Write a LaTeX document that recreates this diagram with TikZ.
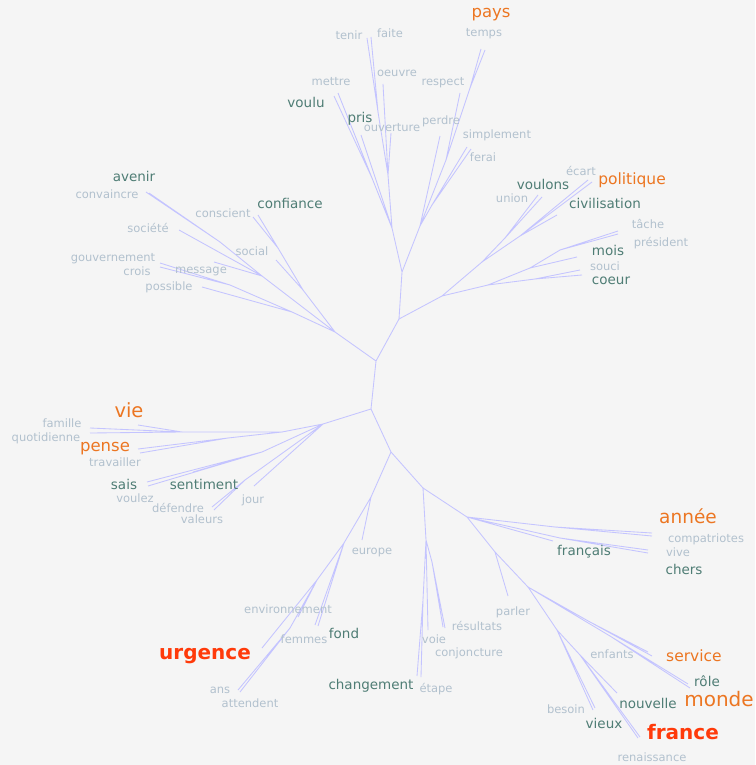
\documentclass[tikz,border=0pt]{standalone}
\usepackage{fontspec}
\setmainfont{DejaVu Sans}
\definecolor{bgcol}{HTML}{F5F5F5}
\definecolor{branchcol}{HTML}{C4C4FF}
\definecolor{rarecol}{HTML}{B2C1CE}
\definecolor{commoncol}{HTML}{4F7D75}
\definecolor{freqcol}{HTML}{EC7622}
\definecolor{topcol}{HTML}{FF3A0A}
\tikzset{
  br/.style={draw=branchcol, line width=0.85pt},
  rare/.style={text=rarecol, inner sep=0pt, font=\fontsize{11.5}{12}\selectfont},
  common/.style={text=commoncol, inner sep=0pt, font=\fontsize{13.5}{14}\selectfont},
  frequent/.style={text=freqcol, inner sep=0pt, font=\fontsize{#1}{#1}\selectfont},
  top/.style={text=topcol, inner sep=0pt, font=\bfseries\fontsize{20}{20}\selectfont},
}
\begin{document}
\begin{tikzpicture}[x=1pt, y=-1pt]
    \useasboundingbox (0,0) rectangle (755,765);
    \fill[bgcol] (0,0) rectangle (755,765);

    % centre of the tree
    \coordinate (A) at (376,361);
    \coordinate (B) at (371,409);
    \coordinate (C) at (399,319);
    \coordinate (D) at (335,332);
    \draw[br] (A) -- (B) (A) -- (C) (A) -- (D);

    % upper branch
    \coordinate (F) at (402,272);
    \coordinate (FL) at (392,228);
    \coordinate (Fm) at (372,178);
    \coordinate (Fo) at (388,175);
    \coordinate (Ft) at (378,112);
    \coordinate (FR) at (420,226);
    \coordinate (FRs) at (432,205);
    \coordinate (FRp) at (446,160);
    \coordinate (Fpt) at (470,88);

    \coordinate (tvoulu) at (334,96);
    \coordinate (tmettre) at (338,93);
    \coordinate (tpris) at (361,135);
    \coordinate (touverture) at (391,133);
    \coordinate (toeuvre) at (383,84);
    \coordinate (ttenir) at (367,38);
    \coordinate (tfaite) at (371,37);
    \coordinate (tperdre) at (440,136);
    \coordinate (tsimplement) at (467,147);
    \coordinate (tferai) at (471,149);
    \coordinate (trespect) at (460,93);
    \coordinate (tpays) at (481,49);
    \coordinate (ttemps) at (485,50);

    \draw[br] (C) -- (F) (F) -- (FL) (F) -- (FR);
    \draw[br] (FL) -- (Fm) (FL) -- (tpris) (FL) -- (Fo);
    \draw[br] (Fm) -- (tvoulu) (Fm) -- (tmettre);
    \draw[br] (Fo) -- (touverture) (Fo) -- (toeuvre) (Fo) -- (Ft);
    \draw[br] (Ft) -- (ttenir) (Ft) -- (tfaite);
    \draw[br] (FR) -- (tperdre) (FR) -- (FRs) (FR) -- (FRp);
    \draw[br] (FRs) -- (tsimplement) (FRs) -- (tferai);
    \draw[br] (FRp) -- (trespect) (FRp) -- (Fpt);
    \draw[br] (Fpt) -- (tpays) (Fpt) -- (ttemps);

    \node[frequent=16.5] (pays) at (491,15) {pays};
    \node[rare] (temps) at (484,34) {temps};
    \node[rare] (tenir) at (349,35) {tenir};
    \node[rare] (faite) at (390,33) {faite};
    \node[rare] (oeuvre) at (397,73) {oeuvre};
    \node[rare] (respect) at (443,83) {respect};
    \node[rare] (mettre) at (331,82) {mettre};
    \node[common] (voulu) at (306,102) {voulu};
    \node[common] (pris) at (360,119) {pris};
    \node[rare] (ouverture) at (392,128) {ouverture};
    \node[rare] (perdre) at (441,121) {perdre};
    \node[rare] (simplement) at (497,135) {simplement};
    \node[rare] (ferai) at (483,157) {ferai};

    % right branch
    \coordinate (G) at (442,296);
    \coordinate (H) at (482,262);
    \coordinate (Hu) at (505,238);
    \coordinate (Hc) at (520,236);
    \coordinate (K) at (488,285);
    \coordinate (Km) at (530,268);
    \coordinate (Kt) at (560,250);
    \coordinate (Ks) at (535,279);

    \coordinate (tunion) at (538,195);
    \coordinate (tvoulons) at (542,197);
    \coordinate (tcivilisation) at (557,215);
    \coordinate (tecart) at (588,180);
    \coordinate (tpolitique) at (592,182);
    \coordinate (tmois) at (577,257);
    \coordinate (ttache) at (618,231);
    \coordinate (tpresident) at (618,234);
    \coordinate (tsouci) at (580,270);
    \coordinate (tcoeur) at (582,275);

    \draw[br] (C) -- (G) (G) -- (H) (G) -- (K);
    \draw[br] (H) -- (Hu) (H) -- (Hc);
    \draw[br] (Hu) -- (tunion) (Hu) -- (tvoulons);
    \draw[br] (Hc) -- (tcivilisation) (Hc) -- (tecart) (Hc) -- (tpolitique);
    \draw[br] (K) -- (Km) (K) -- (Ks);
    \draw[br] (Km) -- (tmois) (Km) -- (Kt);
    \draw[br] (Kt) -- (ttache) (Kt) -- (tpresident);
    \draw[br] (Ks) -- (tsouci) (Ks) -- (tcoeur);

    \node[rare] (ecart) at (581,171) {écart};
    \node[common] (voulons) at (543,184) {voulons};
    \node[frequent=15.5] (politique) at (632,180) {politique};
    \node[rare] (union) at (512,198) {union};
    \node[common] (civilisation) at (605,203) {civilisation};
    \node[rare] (tache) at (648,224) {tâche};
    \node[rare] (president) at (661,243) {président};
    \node[common] (mois) at (608,250) {mois};
    \node[rare] (souci) at (605,266) {souci};
    \node[common] (coeur) at (611,281) {coeur};

    % upper left branch
    \coordinate (Dc) at (303,290);
    \coordinate (Dcc) at (278,248);
    \coordinate (Dl) at (292,312);
    \coordinate (Dg) at (230,285);
    \coordinate (Du) at (262,276);
    \coordinate (Dv) at (220,242);

    \coordinate (tsocial) at (276,260);
    \coordinate (tconscient) at (253,217);
    \coordinate (tconfiance) at (258,215);
    \coordinate (tpossible) at (202,287);
    \coordinate (tgouvernement) at (160,263);
    \coordinate (tcrois) at (160,267);
    \coordinate (tmessage) at (214,262);
    \coordinate (tsociete) at (179,230);
    \coordinate (tconvaincre) at (146,192);
    \coordinate (tavenir) at (149,193);

    \draw[br] (D) -- (Dc) (D) -- (Dl) (D) -- (Du);
    \draw[br] (Dc) -- (tsocial) (Dc) -- (Dcc);
    \draw[br] (Dcc) -- (tconscient) (Dcc) -- (tconfiance);
    \draw[br] (Dl) -- (tpossible) (Dl) -- (Dg);
    \draw[br] (Dg) -- (tgouvernement) (Dg) -- (tcrois);
    \draw[br] (Du) -- (tmessage) (Du) -- (tsociete) (Du) -- (Dv);
    \draw[br] (Dv) -- (tconvaincre) (Dv) -- (tavenir);

    \node[common] (avenir) at (134,176) {avenir};
    \node[rare] (convaincre) at (107,194) {convaincre};
    \node[rare] (conscient) at (223,213) {conscient};
    \node[common] (confiance) at (290,203) {confiance};
    \node[rare] (societe) at (148,228) {société};
    \node[rare] (social) at (252,251) {social};
    \node[rare] (gouvernement) at (113,259) {gouvernement};
    \node[rare] (crois) at (137,271) {crois};
    \node[rare] (message) at (201,271) {message};
    \node[rare] (possible) at (169,287) {possible};

    % lower left branch
    \coordinate (L) at (323,424);
    \coordinate (M) at (282,432);
    \coordinate (Mv) at (182,432);
    \coordinate (Mp) at (228,438);
    \coordinate (N) at (262,452);
    \coordinate (P) at (245,480);

    \coordinate (tvie) at (138,425);
    \coordinate (tfamille) at (90,428);
    \coordinate (tquotidienne) at (90,433);
    \coordinate (tpense) at (138,449);
    \coordinate (ttravailler) at (140,453);
    \coordinate (tsais) at (147,482);
    \coordinate (tvoulez) at (148,486);
    \coordinate (tsentiment) at (193,472);
    \coordinate (tjour) at (254,486);
    \coordinate (tdefendre) at (212,507);
    \coordinate (tvaleurs) at (214,510);

    \draw[br] (B) -- (L) (L) -- (M) (L) -- (N) (L) -- (tjour) (L) -- (P);
    \draw[br] (M) -- (Mv) (M) -- (Mp);
    \draw[br] (Mv) -- (tvie) (Mv) -- (tfamille) (Mv) -- (tquotidienne);
    \draw[br] (Mp) -- (tpense) (Mp) -- (ttravailler);
    \draw[br] (N) -- (tsais) (N) -- (tvoulez) (N) -- (tsentiment);
    \draw[br] (P) -- (tdefendre) (P) -- (tvaleurs);

    \node[frequent=19.5] (vie) at (129,410) {vie};
    \node[rare] (famille) at (62,423) {famille};
    \node[rare] (quotidienne) at (46,438) {quotidienne};
    \node[frequent=16.5] (pense) at (105,449) {pense};
    \node[rare] (travailler) at (115,462) {travailler};
    \node[common] (sais) at (124,484) {sais};
    \node[common] (sentiment) at (204,484) {sentiment};
    \node[rare] (voulez) at (135,498) {voulez};
    \node[rare] (defendre) at (178,508) {défendre};
    \node[rare] (valeurs) at (202,519) {valeurs};
    \node[rare] (jour) at (253,500) {jour};

    % lower branch
    \coordinate (Q) at (391,452);
    \coordinate (R) at (371,497);
    \coordinate (R2) at (344,543);
    \coordinate (Re) at (317,580);
    \coordinate (Ra) at (290,628);
    \coordinate (S) at (423,488);
    \coordinate (Sa) at (426,540);
    \coordinate (Sr) at (432,562);
    \coordinate (Sc) at (423,600);

    \coordinate (teurope) at (362,540);
    \coordinate (tfemmes) at (315,625);
    \coordinate (tfond) at (318,626);
    \coordinate (tenvironnement) at (298,617);
    \coordinate (turgence) at (262,648);
    \coordinate (tans) at (238,690);
    \coordinate (tattendent) at (240,692);
    \coordinate (tchangement) at (417,676);
    \coordinate (tetape) at (421,677);
    \coordinate (tvoie) at (428,630);
    \coordinate (tresultats) at (443,627);
    \coordinate (tconjoncture) at (445,628);

    \draw[br] (B) -- (Q) (Q) -- (R) (Q) -- (S);
    \draw[br] (R) -- (teurope) (R) -- (R2);
    \draw[br] (R2) -- (tfemmes) (R2) -- (tfond) (R2) -- (Re);
    \draw[br] (Re) -- (tenvironnement) (Re) -- (turgence) (Re) -- (Ra);
    \draw[br] (Ra) -- (tans) (Ra) -- (tattendent);
    \draw[br] (S) -- (Sa) (Sa) -- (tvoie) (Sa) -- (Sr) (Sa) -- (Sc);
    \draw[br] (Sr) -- (tresultats) (Sr) -- (tconjoncture);
    \draw[br] (Sc) -- (tchangement) (Sc) -- (tetape);

    \node[rare] (europe) at (372,552) {europe};
    \node[rare] (environnement) at (288,609) {environnement};
    \node[rare] (femmes) at (304,639) {femmes};
    \node[common] (fond) at (344,633) {fond};
    \node[top] (urgence) at (205,656) {urgence};
    \node[rare] (ans) at (220,690) {ans};
    \node[rare] (attendent) at (250,703) {attendent};
    \node[common] (changement) at (371,686) {changement};
    \node[rare] (etape) at (436,689) {étape};
    \node[rare] (voie) at (434,639) {voie};
    \node[rare] (resultats) at (477,626) {résultats};
    \node[rare] (conjoncture) at (469,653) {conjoncture};

    % lower right branch
    \coordinate (T) at (467,517);
    \coordinate (Ta) at (555,527);
    \coordinate (Tb) at (560,538);
    \coordinate (U) at (495,552);
    \coordinate (V) at (528,587);
    \coordinate (Ve) at (590,622);
    \coordinate (Vr) at (610,636);
    \coordinate (Vn) at (557,630);
    \coordinate (Vf) at (580,655);

    \coordinate (tannee) at (652,533);
    \coordinate (tcompatriotes) at (652,536);
    \coordinate (tvive) at (648,550);
    \coordinate (tchers) at (648,553);
    \coordinate (tfrancais) at (553,541);
    \coordinate (tparler) at (508,596);
    \coordinate (tenfants) at (648,652);
    \coordinate (tservice) at (652,656);
    \coordinate (trole) at (688,684);
    \coordinate (tmonde) at (690,688);
    \coordinate (tbesoin) at (593,710);
    \coordinate (tvieux) at (595,708);
    \coordinate (tnouvelle) at (617,693);
    \coordinate (tfrance) at (638,738);
    \coordinate (trenaissance) at (640,737);

    \draw[br] (S) -- (T) (T) -- (Ta) (T) -- (Tb) (T) -- (tfrancais) (T) -- (U);
    \draw[br] (Ta) -- (tannee) (Ta) -- (tcompatriotes);
    \draw[br] (Tb) -- (tvive) (Tb) -- (tchers);
    \draw[br] (U) -- (tparler) (U) -- (V);
    \draw[br] (V) -- (Ve) (V) -- (Vr) (V) -- (Vn);
    \draw[br] (Ve) -- (tenfants) (Ve) -- (tservice);
    \draw[br] (Vr) -- (trole) (Vr) -- (tmonde);
    \draw[br] (Vn) -- (tbesoin) (Vn) -- (tvieux) (Vn) -- (Vf);
    \draw[br] (Vf) -- (tnouvelle) (Vf) -- (tfrance) (Vf) -- (trenaissance);

    \node[frequent=18.5] (annee) at (688,516) {année};
    \node[rare] (compatriotes) at (706,539) {compatriotes};
    \node[rare] (vive) at (678,552) {vive};
    \node[common] (chers) at (684,569) {chers};
    \node[common] (francais) at (584,552) {français};
    \node[rare] (parler) at (513,612) {parler};
    \node[rare] (enfants) at (612,654) {enfants};
    \node[frequent=15.5] (service) at (694,656) {service};
    \node[common] (role) at (707,681) {rôle};
    \node[frequent=20] (monde) at (719,699) {monde};
    \node[common] (nouvelle) at (648,703) {nouvelle};
    \node[rare] (besoin) at (566,709) {besoin};
    \node[common] (vieux) at (604,723) {vieux};
    \node[top] (france) at (683,732) {france};
    \node[rare] (renaissance) at (652,757) {renaissance};
\end{tikzpicture}
\end{document}
